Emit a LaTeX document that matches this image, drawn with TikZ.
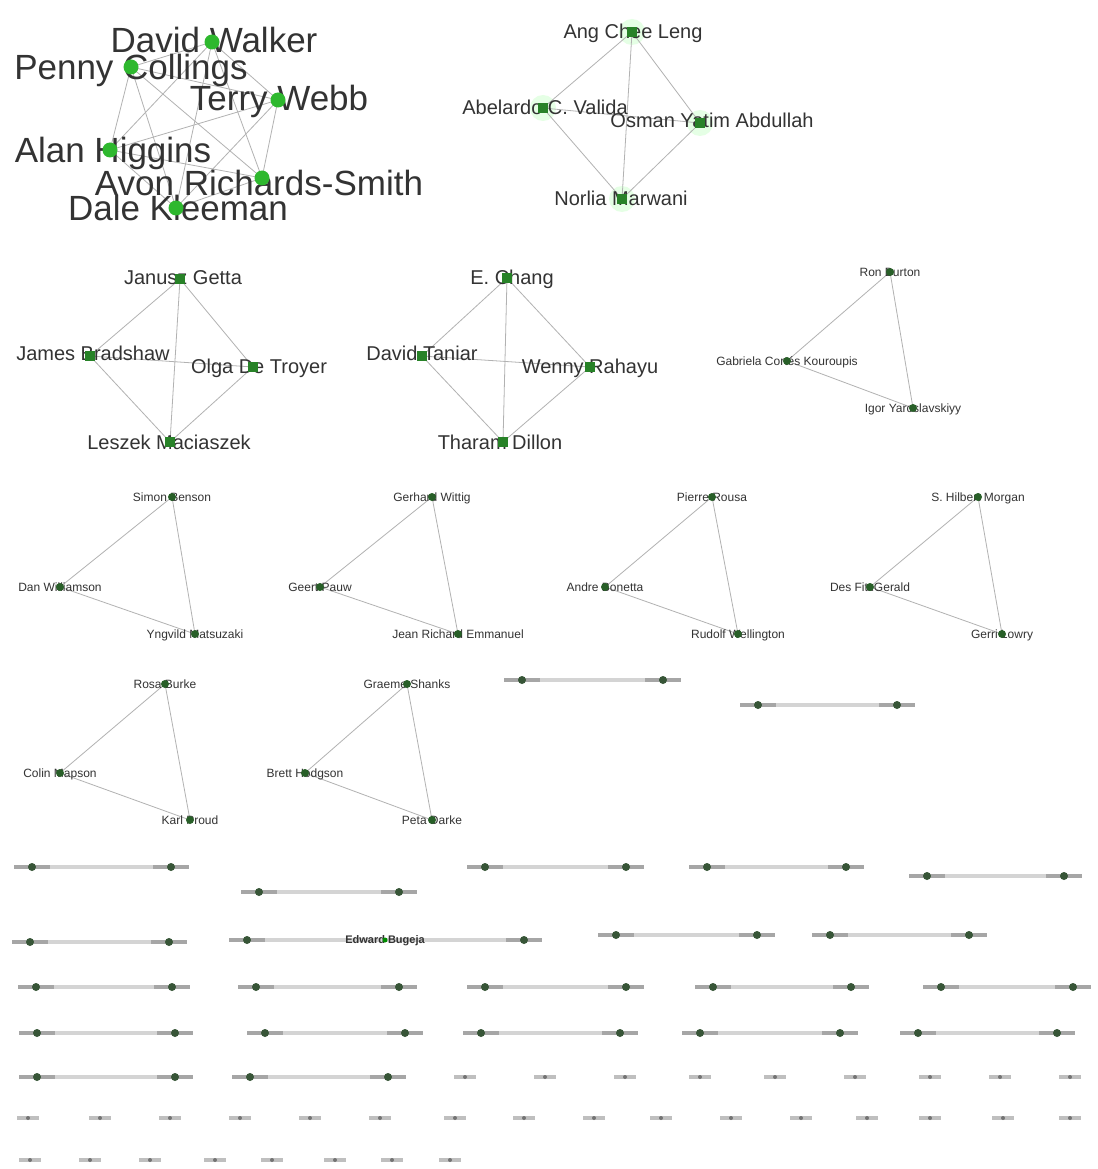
\documentclass[tikz,border=0pt]{standalone}
\usepackage{fontspec}
\setmainfont{Liberation Sans}
\begin{document}
\begin{tikzpicture}[x=1pt,y=-1pt,
  lbl/.style={text=black!80, inner sep=0pt, text depth=0pt},
  big/.style={lbl, font=\fontsize{35}{35}\selectfont, text height=25pt},
  mid/.style={lbl, font=\fontsize{20}{20}\selectfont, text height=14.3pt},
  sml/.style={lbl, font=\fontsize{12}{12}\selectfont, text height=8.6pt},
  edge/.style={draw=black!30, line width=0.8pt},
  bigdot/.style={circle, fill={rgb,255:red,46;green,184;blue,46}, minimum size=15pt, inner sep=0pt},
  halo/.style={circle, fill=green!10, minimum size=26pt, inner sep=0pt},
  mdot/.style={rectangle, fill={rgb,255:red,40;green,130;blue,40}, minimum size=10pt, inner sep=0pt},
  sdot/.style={circle, fill={rgb,255:red,40;green,95;blue,40}, minimum size=8pt, inner sep=0pt},
  pedge/.style={draw=black!17, line width=4pt},
  smudge/.style={rectangle, fill=black!35, minimum width=36pt, minimum height=4pt, inner sep=0pt},
  ismudge/.style={rectangle, fill=black!25, minimum width=22pt, minimum height=4pt, inner sep=0pt},
  idot/.style={circle, fill=black!55, minimum size=4pt, inner sep=0pt},
  pdot/.style={circle, fill={rgb,255:red,55;green,85;blue,55}, minimum size=8pt, inner sep=0pt}
]
\useasboundingbox (0,0) rectangle (1097,1169);
\fill[white] (0,0) rectangle (1097,1169);

%% ---------- cluster 1 (K6) ----------
\coordinate (dw) at (212,42);
\coordinate (pc) at (131,67);
\coordinate (tw) at (278,100);
\coordinate (ah) at (110,150);
\coordinate (ar) at (262,178);
\coordinate (dk) at (176,208);
\foreach \a/\b in {dw/pc,dw/tw,dw/ah,dw/ar,dw/dk,pc/tw,pc/ah,pc/ar,pc/dk,tw/ah,tw/ar,tw/dk,ah/ar,ah/dk,ar/dk}
  \draw[edge] (\a) -- (\b);
\node[big] (dwL) at (214,40) {David Walker};
\node[big] (pcL) at (131,67) {Penny Collings};
\node[big] (twL) at (279,98) {Terry Webb};
\node[big] (ahL) at (113,150) {Alan Higgins};
\node[big] (arL) at (259,183) {Avon Richards-Smith};
\node[big] (dkL) at (178,208) {Dale Kleeman};
\foreach \n in {dw,pc,tw,ah,ar,dk} \node[bigdot] (\n D) at (\n) {};

%% ---------- cluster 2 (K4) ----------
\coordinate (ac) at (632,32);
\coordinate (av) at (543,108);
\coordinate (oy) at (700,123);
\coordinate (nm) at (622,199);
\foreach \n in {ac,av,oy,nm} \node[halo] (\n H) at (\n) {};
\foreach \a/\b in {ac/av,ac/oy,ac/nm,av/oy,av/nm,oy/nm} \draw[edge] (\a) -- (\b);
\node[mid] (acL) at (633,31) {Ang Chee Leng};
\node[mid] (avL) at (545,107) {Abelardo C. Valida};
\node[mid] (oyL) at (712,120) {Osman Yatim Abdullah};
\node[mid] (nmL) at (621,198) {Norlia Marwani};
\foreach \n in {ac,av,oy,nm} \node[mdot] (\n D) at (\n) {};

%% ---------- cluster 3 (K4) ----------
\coordinate (jg) at (180,279);
\coordinate (jb) at (90,356);
\coordinate (od) at (253,367);
\coordinate (lm) at (170,442);
\foreach \a/\b in {jg/jb,jg/od,jg/lm,jb/od,jb/lm,od/lm} \draw[edge] (\a) -- (\b);
\node[mid] (jgL) at (183,277) {Janusz Getta};
\node[mid] (jbL) at (93,353) {James Bradshaw};
\node[mid] (odL) at (259,366) {Olga De Troyer};
\node[mid] (lmL) at (169,442) {Leszek Maciaszek};
\foreach \n in {jg,jb,od,lm} \node[mdot] (\n D) at (\n) {};

%% ---------- cluster 4 (K4) ----------
\coordinate (ec) at (507,278);
\coordinate (dt) at (422,356);
\coordinate (wr) at (590,367);
\coordinate (td) at (503,442);
\foreach \a/\b in {ec/dt,ec/wr,ec/td,dt/wr,dt/td,wr/td} \draw[edge] (\a) -- (\b);
\node[mid] (ecL) at (512,277) {E. Chang};
\node[mid] (dtL) at (422,353) {David Taniar};
\node[mid] (wrL) at (590,366) {Wenny Rahayu};
\node[mid] (tdL) at (500,442) {Tharam Dillon};
\foreach \n in {ec,dt,wr,td} \node[mdot] (\n D) at (\n) {};

%% ---------- triangles ----------
\foreach \k/\tx/\ty/\lx/\ly/\bx/\by/\ta/\la/\ba in {
  t1/890/272/787/361/913/408/Ron Burton/Gabriela Cortés Kouroupis/Igor Yaroslavskiyy,
  t2/172/497/60/587/195/634/Simon Benson/Dan Williamson/Yngvild Matsuzaki,
  t3/432/497/320/587/458/634/Gerhard Wittig/Geert Pauw/Jean Richard Emmanuel,
  t4/712/497/605/587/738/634/Pierre Rousa/Andre Bonetta/Rudolf Wellington,
  t5/978/497/870/587/1002/634/S. Hilbert Morgan/Des FitzGerald/Gerri Lowry,
  t6/165/684/60/773/190/820/Rosa Burke/Colin Mapson/Karl Proud,
  t7/407/684/305/773/432/820/Graeme Shanks/Brett Hodgson/Peta Darke}
{
  \coordinate (\k a) at (\tx,\ty);
  \coordinate (\k b) at (\lx,\ly);
  \coordinate (\k c) at (\bx,\by);
  \draw[edge] (\k a) -- (\k b);
  \draw[edge] (\k a) -- (\k c);
  \draw[edge] (\k b) -- (\k c);
  \node[sml] (\k aL) at (\k a) {\ta};
  \node[sml] (\k bL) at (\k b) {\la};
  \node[sml] (\k cL) at (\k c) {\ba};
  \node[sdot] (\k aD) at (\k a) {};
  \node[sdot] (\k bD) at (\k b) {};
  \node[sdot] (\k cD) at (\k c) {};
}

%% ---------- pairs ----------
\foreach \i/\xa/\xb/\yy in {
  1/522/663/680, 2/758/897/705,
  3/32/171/867, 4/259/399/892, 5/485/626/867, 6/707/846/867, 7/927/1064/876,
  8/30/169/942, 10/616/757/935, 11/830/969/935,
  12/36/172/987, 13/256/399/987, 14/485/626/987, 15/713/851/987, 16/941/1073/987,
  17/37/175/1033, 18/265/405/1033, 19/481/620/1033, 20/700/840/1033, 21/918/1057/1033,
  22/37/175/1077, 23/250/388/1077}
{
  \coordinate (p\i a) at (\xa,\yy);
  \coordinate (p\i b) at (\xb,\yy);
  \draw[pedge] (p\i a) -- (p\i b);
  \node[smudge] (p\i aS) at (p\i a) {};
  \node[smudge] (p\i bS) at (p\i b) {};
  \node[pdot] (p\i aD) at (p\i a) {};
  \node[pdot] (p\i bD) at (p\i b) {};
}

%% chain of three with label
\coordinate (c1) at (247,940);
\coordinate (c2) at (385,940);
\coordinate (c3) at (524,940);
\draw[pedge] (c1) -- (c2);
\draw[pedge] (c2) -- (c3);
\node[smudge] (c1S) at (c1) {};
\node[smudge] (c3S) at (c3) {};
\node[lbl, font=\fontsize{11}{11}\selectfont\bfseries, text height=7.9pt] (c2L) at (c2) {Edward Bugeja};
\node[pdot] (c1D) at (c1) {};
\node[pdot] (c3D) at (c3) {};
\node[circle, fill=green!55!black, minimum size=5pt, inner sep=0pt] (c2D) at (c2) {};

%% ---------- isolated nodes ----------
\foreach \xx in {465,545,625,700,775,855,930,1000,1070} {
  \node[ismudge] (iA\xx) at (\xx,1077) {};
  \node[idot] (iAD\xx) at (\xx,1077) {};
}
\foreach \xx in {28,100,170,240,310,380,455,524,594,661,731,801,867,930,1003,1070} {
  \node[ismudge] (iB\xx) at (\xx,1118) {};
  \node[idot] (iBD\xx) at (\xx,1118) {};
}
\foreach \xx in {30,90,150,215,272,335,392,450} {
  \node[ismudge] (iC\xx) at (\xx,1160) {};
  \node[idot] (iCD\xx) at (\xx,1160) {};
}
\end{tikzpicture}
\end{document}
